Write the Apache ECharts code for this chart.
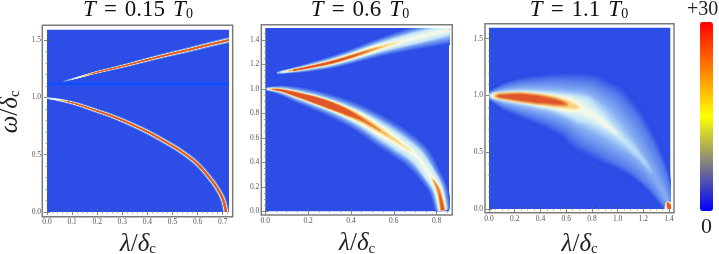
<!DOCTYPE html>
<html><head><meta charset="utf-8">
<style>html,body{margin:0;padding:0;background:#fff}#c{width:719px;height:254px;filter:blur(0.35px)}</style>
<script src="https://cdn.jsdelivr.net/npm/echarts@6/dist/echarts.min.js"></script>
</head><body><div id="c"></div>
<script>
// tick values
const p1XTicks=[0,.1,.2,.3,.4,.5,.6,.7], p1YTicks=[0,.5,1,1.5];
const p2XTicks=[0,.2,.4,.6,.8], p2YTicks=[0,.2,.4,.6,.8,1,1.2,1.4];
const p3XTicks=[0,.2,.4,.6,.8,1,1.2,1.4], p3YTicks=[0,.5,1,1.5];
const titles=['0.15','0.6','1.1'];
const flatLineLambda=[0,.725], flatLineOmega=[1.12,1.12];

// ridges: centre (lambda, omega) and half-width in omega units of each colour level
const p1LowLambda=[0,.059,.125,.191,.258,.324,.397,.463,.53,.596,.649,.682,.702,.713];
const p1LowOmega=[.995,.974,.938,.889,.838,.778,.703,.624,.536,.426,.295,.192,.105,.003];
const p1LowGlow=[.006,.012,.015,.017,.018,.019,.02,.021,.021,.021,.021,.021,.022,.024];
const p1LowHalo=[.004,.009,.011,.012,.013,.014,.015,.015,.015,.015,.015,.015,.016,.018];
const p1LowPale=[.003,.006,.008,.009,.01,.011,.011,.011,.011,.011,.011,.012,.013,.015];
const p1LowCream=[.001,.004,.006,.007,.008,.0085,.0085,.0085,.0085,.009,.009,.01,.011,.013];
const p1LowAmber=[0,.003,.005,.006,.007,.0075,.0075,.0075,.0075,.008,.008,.009,.01,.011];
const p1LowRed=[0,.002,.004,.005,.006,.006,.006,.006,.006,.007,.007,.007,.008,.01];

const p1UpLambda=[.056,.125,.191,.258,.324,.39,.47,.56,.64,.725];
const p1UpOmega=[1.135,1.175,1.216,1.251,1.286,1.324,1.368,1.414,1.458,1.502];
const p1UpGlow=[.002,.007,.01,.012,.014,.016,.018,.02,.021,.022];
const p1UpHalo=[.001,.005,.008,.009,.011,.012,.013,.014,.015,.016];
const p1UpPale=[.001,.004,.006,.007,.008,.009,.01,.011,.011,.012];
const p1UpCream=[0,.003,.005,.006,.0065,.007,.008,.0085,.009,.0095];
const p1UpAmber=[0,.002,.004,.005,.0055,.006,.007,.0075,.008,.008];
const p1UpRed=[0,.001,.003,.004,.004,.005,.005,.006,.006,.006];

const p2LowLambda=[0,.072,.149,.227,.305,.383,.461,.551,.629,.707,.769,.808,.829];
const p2LowOmega=[1,.988,.952,.911,.864,.808,.74,.643,.553,.447,.297,.174,.011];
const p2LowGlow=[.004,.03,.05,.062,.07,.078,.085,.095,.095,.09,.07,.06,.05];
const p2LowHalo=[.002,.02,.036,.046,.052,.058,.065,.075,.075,.065,.05,.045,.04];
const p2LowPale=[.001,.013,.027,.036,.042,.046,.05,.055,.055,.05,.045,.035,.03];
const p2LowCream=[0,.009,.021,.03,.034,.036,.036,.032,.014,0,0,.02,.024];
const p2LowAmber=[0,.007,.017,.026,.03,.028,.018,.004,0,0,0,.012,.018];
const p2LowRed=[0,.004,.013,.021,.024,.017,0,0,0,0,0,0,.009];

const p2UpLambda=[.045,.149,.227,.305,.4,.504,.58,.66,.76,.858];
const p2UpOmega=[1.127,1.157,1.184,1.214,1.262,1.321,1.36,1.397,1.44,1.48];
const p2UpGlow=[.001,.02,.03,.038,.045,.055,.062,.07,.08,.09];
const p2UpHalo=[.001,.013,.021,.028,.034,.04,.046,.05,.055,.06];
const p2UpPale=[0,.009,.015,.02,.025,.03,.033,.04,.04,.035];
const p2UpCream=[0,.006,.01,.014,.017,.02,.012,0,0,0];
const p2UpAmber=[0,.004,.007,.01,.012,.006,0,0,0,0];
const p2UpRed=[0,.003,.005,.006,.004,0,0,0,0,0];

const p3MainLambda=[0,.023,.12,.243,.373,.503,.632,.73,.862,1.018,1.173,1.303,1.393,1.405];
const p3MainOmega=[1,.998,.993,.984,.967,.946,.913,.875,.783,.636,.46,.255,.05,.005];
const p3MainGlow=[.005,.03,.09,.13,.16,.19,.22,.25,.26,.22,.15,.09,.04,.03];
const p3MainHalo=[.002,.014,.05,.075,.09,.105,.125,.145,.135,.09,.03,0,0,0];
const p3MainPale=[.001,.008,.03,.045,.055,.065,.085,.1,.055,.01,0,0,0,0];
const p3MainCream=[0,.005,.02,.035,.045,.05,.05,0,0,0,0,0,0,0];
const p3MainAmber=[0,.003,.015,.028,.032,.03,.006,0,0,0,0,0,0,0];
const p3MainRed=[0,.001,.01,.024,.026,.014,0,0,0,0,0,0,0,0];

const p3DotLambda=[1.385,1.398,1.405];
const p3DotOmega=[.06,.03,0];
const p3DotGlow=[.014,.04,.045];
const p3DotHalo=[.013,.037,.042];
const p3DotPale=[.012,.035,.04];
const p3DotCream=[.006,.028,.03];
const p3DotAmber=[.002,.018,.02];
const p3DotRed=[0,.012,.014];

const scale=['#0000ff','#808080','#ffff00','#ff8000','#ff0000'];
const bgBlue='#2c4de6';
const levelColors=['#5a80ec','#8db4f4','#c5e8f8','#fffde6','#f5c868','#e0562a'];
const ridges=[
 {g:0,blur:0,minw:.3,lambda:p1LowLambda,omega:p1LowOmega,w:[p1LowGlow,p1LowHalo,p1LowPale,p1LowCream,p1LowAmber,p1LowRed]},
 {g:0,blur:0,minw:.3,lambda:p1UpLambda,omega:p1UpOmega,w:[p1UpGlow,p1UpHalo,p1UpPale,p1UpCream,p1UpAmber,p1UpRed]},
 {g:1,blur:1,minw:.3,lambda:p2LowLambda,omega:p2LowOmega,w:[p2LowGlow,p2LowHalo,p2LowPale,p2LowCream,p2LowAmber,p2LowRed]},
 {g:1,blur:1,minw:.3,lambda:p2UpLambda,omega:p2UpOmega,w:[p2UpGlow,p2UpHalo,p2UpPale,p2UpCream,p2UpAmber,p2UpRed]},
 {g:2,blur:3,minw:.7,lambda:p3MainLambda,omega:p3MainOmega,w:[p3MainGlow,p3MainHalo,p3MainPale,p3MainCream,p3MainAmber,p3MainRed]},
 {g:2,blur:.8,minw:.3,lambda:p3DotLambda,omega:p3DotOmega,w:[p3DotGlow,p3DotHalo,p3DotPale,p3DotCream,p3DotAmber,p3DotRed]}
];
const hex=c=>[1,3,5].map(i=>parseInt(c.substr(i,2),16));
function mix(a,b,t){const x=hex(a),y=hex(b);return 'rgb('+x.map((v,i)=>Math.round(v+(y[i]-v)*t)).join(',')+')';}
const SUB=5, CURVE=6;
// Catmull-Rom path smoothing of the drawn outline (same job as a line's smooth:true)
function cr(a,b,c,d,t){return .5*(2*b+(c-a)*t+(2*a-5*b+4*c-d)*t*t+(3*b-a-3*c+d)*t*t*t);}
function ridgeSeries(r){
  const data=r.lambda.map((l,i)=>[l,r.omega[i]].concat(r.w.map(a=>a[i])));
  return {type:'custom',xAxisIndex:r.g*2,yAxisIndex:r.g*2,clip:true,silent:true,data,encode:{x:0,y:1},
    renderItem(p,api){
      if(p.dataIndex!==0) return null;
      const raw=data.map(d=>api.coord([d[0],d[1]]));
      const nL=levelColors.length, rawW=data.map(d=>r.w.map((_,lv)=>api.size([0,d[2+lv]])[1]));
      const pts=[],wid=[];
      const at=(arr,i)=>arr[Math.max(0,Math.min(arr.length-1,i))];
      for(let i=0;i<raw.length-1;i++){
        for(let s=0;s<CURVE;s++){
          const t=s/CURVE;
          pts.push([0,1].map(c=>cr(at(raw,i-1)[c],raw[i][c],raw[i+1][c],at(raw,i+2)[c],t)));
          wid.push(rawW[i].map((w,lv)=>w+(rawW[i+1][lv]-w)*t));
        }
      }
      pts.push(raw[raw.length-1]);wid.push(rawW[raw.length-1]);
      const nor=pts.map((q,k)=>{
        const u=at(pts,k-1),v=at(pts,k+1);
        const dx=v[0]-u[0],dy=v[1]-u[1],n=Math.hypot(dx,dy)||1;return [-dy/n,dx/n];});
      const children=[];
      const addBand=(hs,color)=>{
        let i=0;
        while(i<pts.length){
          if(hs[i]<=r.minw){i++;continue;}
          let s=i,e=i;
          while(e<pts.length-1&&hs[e+1]>r.minw)e++;
          const a=[],b=[];
          for(let k=s;k<=e;k++){
            a.push([pts[k][0]+nor[k][0]*hs[k],pts[k][1]+nor[k][1]*hs[k]]);
            b.unshift([pts[k][0]-nor[k][0]*hs[k],pts[k][1]-nor[k][1]*hs[k]]);
          }
          children.push({type:'polygon',shape:{points:a.concat(b)},style:{fill:color,shadowBlur:r.blur,shadowColor:color}});
          i=e+1;
        }
      };
      for(let lv=-1;lv<nL-1;lv++){
        for(let t=0;t<SUB;t++){
          const f=t/SUB;
          const hs=pts.map((_,k)=>lv<0?wid[k][0]*(1.35-.35*f):wid[k][lv]+(wid[k][lv+1]-wid[k][lv])*f);
          addBand(hs,lv<0?mix(bgBlue,levelColors[0],f):mix(levelColors[lv],levelColors[lv+1],f));
        }
      }
      addBand(pts.map((_,k)=>wid[k][nL-1]),levelColors[nL-1]);
      return {type:'group',children};
    }};
}
const series=[];
series.push({type:'line',xAxisIndex:0,yAxisIndex:0,symbol:'none',silent:true,
  data:flatLineLambda.map((l,i)=>[l,flatLineOmega[i]]),lineStyle:{color:'#0550ff',width:1.8}});
ridges.forEach(r=>series.push(ridgeSeries(r)));

const inner=[{l:47,t:29.7,r:229,b:212,xm:.725,ym:1.592,xt:p1XTicks,yt:p1YTicks,xi:.1,yi:.5,xs:5,ys:5,ng:16},
             {l:265.3,t:28,r:449,b:211.3,xm:.858,ym:1.496,xt:p2XTicks,yt:p2YTicks,xi:.2,yi:.2,xs:4,ys:4,ng:16},
             {l:489,t:27.7,r:670.3,b:209,xm:1.409,ym:1.597,xt:p3XTicks,yt:p3YTicks,xi:.2,yi:.5,xs:4,ys:5,ng:19}];
const frames=[[42.3,25.3,232.7,216.7],[261.3,24.7,452.3,215],[485,23.7,674,212.7]];
const grids=[],xAxes=[],yAxes=[];
frames.forEach(f=>grids.push({show:true,outerBoundsMode:'none',left:f[0],top:f[1],width:f[2]-f[0],height:f[3]-f[1],
  borderColor:'#7c7c7c',borderWidth:1.5,backgroundColor:'#ffffff'}));
const tickFont={fontFamily:'Liberation Serif',fontSize:7.5,color:'#555'};
const mathRich={i:{fontFamily:'Liberation Serif',fontStyle:'italic',fontSize:25,color:'#222'},
  c:{fontFamily:'Liberation Serif',fontSize:15,color:'#222',verticalAlign:'bottom',padding:[8,0,0,0]},
  n:{fontFamily:'Liberation Serif',fontSize:25,color:'#222'}};
const lname='{i|λ}{n|/}{i|δ}{c|c}', wname='{i|ω}{n|/}{i|δ}{c|c}';
inner.forEach((g,i)=>{
  grids.push({show:true,outerBoundsMode:'none',left:g.l,top:g.t,width:g.r-g.l,height:g.b-g.t,borderWidth:0,backgroundColor:bgBlue});
  const gi=i+3;
  const base=(extra)=>Object.assign({type:'value',gridIndex:gi,offset:4,splitLine:{show:false},axisLine:{show:false},silent:true},extra);
  const tk=v=>({show:true,inside:true,length:3,customValues:v,lineStyle:{color:'#666',width:.8}});
  const mn=n=>({show:true,splitNumber:n,length:1.5,lineStyle:{color:'#777',width:.6}});
  xAxes.push(base({position:'bottom',min:0,max:g.xm,interval:g.xi,axisTick:tk(g.xt),minorTick:mn(g.xs),
    axisLabel:Object.assign({customValues:g.xt,margin:2,formatter:v=>v.toFixed(1)},tickFont),
    name:lname,nameLocation:'middle',nameGap:g.ng,nameTextStyle:{rich:mathRich}}));
  xAxes.push(base({position:'top',min:0,max:g.xm,interval:g.xi,axisTick:tk(g.xt),minorTick:mn(g.xs),axisLabel:{show:false}}));
  const yn=i==0?{name:wname,nameLocation:'middle',nameGap:20,nameRotate:90,nameTextStyle:{rich:mathRich,padding:[0,0,0,18]}}:{};
  yAxes.push(base(Object.assign({position:'left',min:0,max:g.ym,interval:g.yi,axisTick:tk(g.yt),minorTick:mn(g.ys),
    axisLabel:Object.assign({customValues:g.yt,margin:2,formatter:v=>v.toFixed(1)},tickFont)},yn)));
  yAxes.push(base({position:'right',min:0,max:g.ym,interval:g.yi,axisTick:tk(g.yt),minorTick:mn(g.ys),axisLabel:{show:false}}));
});
const titleRich={i:{fontFamily:'Liberation Serif',fontStyle:'italic',fontSize:23,color:'#111'},
  j:{fontFamily:'Liberation Serif',fontStyle:'italic',fontSize:23,color:'#111',padding:[0,0,0,8]},
  e:{fontFamily:'Liberation Serif',fontSize:23,color:'#111',padding:[0,8,0,8]},
  n:{fontFamily:'Liberation Serif',fontSize:23,color:'#111'},
  s:{fontFamily:'Liberation Serif',fontSize:14,color:'#111',verticalAlign:'bottom',padding:[8,0,0,0]}};
const titleX=[138,360,579];
const title=titles.map((t,i)=>({text:`{i|T}{e|=}{n|${t}}{j|T}{s|0}`,left:titleX[i],top:-2,padding:0,textAlign:'center',textStyle:{fontWeight:'normal',rich:titleRich}}));

const chart=echarts.init(document.getElementById('c'),null,{renderer:'canvas'});
chart.setOption({animation:false,backgroundColor:'#fff',title,grid:grids,xAxis:xAxes,yAxis:yAxes,series,
  visualMap:{type:'continuous',min:0,max:30,seriesIndex:[],calculable:false,showLabel:false,left:700,top:22,itemWidth:13,itemHeight:189,
    inRange:{color:scale},padding:0},
  graphic:[
   {type:'text',left:687,top:0,style:{text:'+30',fontFamily:'Liberation Serif',fontSize:20,fill:'#222'}},
   {type:'text',left:701,top:216,style:{text:'0',fontFamily:'Liberation Serif',fontSize:22,fill:'#222'}}
  ]});
</script></body></html>
